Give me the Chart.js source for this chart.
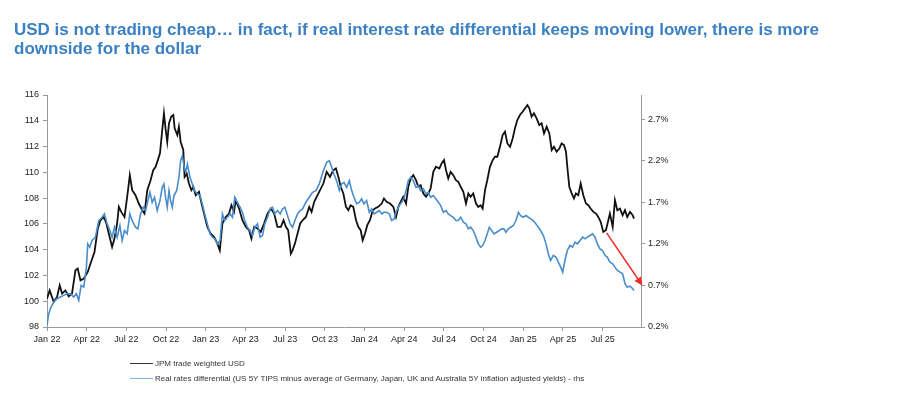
<!DOCTYPE html>
<html>
<head>
<meta charset="utf-8">
<script src="https://cdn.jsdelivr.net/npm/chart.js@4.4.1/dist/chart.umd.min.js"></script>
<style>
  html, body { margin: 0; padding: 0; background: #fff; }
  #wrap { position: relative; width: 903px; height: 395px; overflow: hidden; }
  #title {
    position: absolute; left: 14px; top: 20px; width: 880px;
    font-family: "Liberation Sans", Arial, sans-serif;
    font-weight: bold; font-size: 17px; line-height: 19px; color: #3b80c2;
  }
  #chart { position: absolute; left: 0; top: 0; }
  .legend {
    position: absolute; left: 130px;
    font-family: "Liberation Sans", Arial, sans-serif;
    font-size: 8px; color: #333; white-space: nowrap;
  }
  .legend .swatch { display: inline-block; width: 23px; height: 0; vertical-align: middle; margin-right: 2px; }
</style>
</head>
<body>
<div id="wrap">
  <canvas id="chart" width="903" height="395"></canvas>
  <div id="title">USD is not trading cheap… in fact, if real interest rate differential keeps moving lower, there is more<br>downside for the dollar</div>
  <div class="legend" style="top:359px;"><span class="swatch" style="border-top:1.5px solid #333;"></span>JPM trade weighted USD</div>
  <div class="legend" style="top:374px;"><span class="swatch" style="border-top:1.5px solid #7fb3e0;"></span>Real rates differential (US 5Y TIPS minus average of Germany, Japan, UK and Australia 5Y inflation adjusted yields) - rhs</div>
</div>
<script>
// x = months since Jan 2022
const tickMonths = [0, 3, 6, 9, 12, 15, 18, 21, 24, 27, 30, 33, 36, 39, 42];
const tickLabels = ['Jan 22', 'Apr 22', 'Jul 22', 'Oct 22', 'Jan 23', 'Apr 23', 'Jul 23', 'Oct 23',
  'Jan 24', 'Apr 24', 'Jul 24', 'Oct 24', 'Jan 25', 'Apr 25', 'Jul 25'];
const rightTicks = [0.2, 0.7, 1.2, 1.7, 2.2, 2.7];

// JPM trade weighted USD (lhs)
const usdMonths = [
  0.00, 0.20, 0.51, 0.76, 0.96, 1.14, 1.39, 1.64, 1.89, 2.15, 2.32, 2.53, 2.78, 3.08, 3.33, 3.59, 3.84, 4.04, 4.29, 4.49,
  4.67, 4.92, 5.10, 5.30, 5.43, 5.61, 5.86, 6.06, 6.26, 6.44, 6.69, 6.94, 7.20, 7.37, 7.58, 7.83, 8.03, 8.21, 8.38, 8.54,
  8.71, 8.84, 8.96, 9.09, 9.22, 9.39, 9.55, 9.65, 9.85, 9.97, 10.10, 10.30, 10.40, 10.56, 10.73, 10.91, 11.06, 11.24, 11.49, 11.62,
  11.87, 12.12, 12.37, 12.63, 12.88, 13.06, 13.26, 13.51, 13.76, 13.94, 14.14, 14.27, 14.52, 14.77, 15.03, 15.28, 15.45, 15.66, 15.91, 16.16,
  16.41, 16.67, 16.92, 17.17, 17.42, 17.68, 17.88, 18.06, 18.23, 18.43, 18.56, 18.74, 18.94, 19.14, 19.32, 19.57, 19.82, 20.00, 20.20, 20.45,
  20.89, 21.14, 21.39, 21.64, 21.84, 22.02, 22.20, 22.40, 22.60, 22.78, 22.95, 23.15, 23.36, 23.53, 23.71, 23.86, 24.04, 24.21, 24.41, 24.62,
  24.79, 25.04, 25.30, 25.47, 25.67, 25.93, 26.18, 26.38, 26.56, 26.73, 26.93, 27.14, 27.31, 27.49, 27.69, 27.89, 28.07, 28.24, 28.45, 28.65,
  28.82, 29.00, 29.20, 29.40, 29.66, 29.83, 30.01, 30.16, 30.33, 30.51, 30.71, 30.91, 31.09, 31.27, 31.47, 31.67, 31.85, 32.02, 32.22, 32.43,
  32.60, 32.78, 32.93, 33.11, 33.28, 33.48, 33.69, 33.86, 34.04, 34.24, 34.44, 34.62, 34.80, 35.00, 35.20, 35.37, 35.55, 35.75, 35.95, 36.13,
  36.31, 36.46, 36.63, 36.81, 37.01, 37.21, 37.39, 37.57, 37.77, 37.97, 38.15, 38.32, 38.52, 38.73, 38.90, 39.08, 39.23, 39.33, 39.48, 39.66,
  39.83, 39.98, 40.16, 40.34, 40.54, 40.74, 40.92, 41.09, 41.30, 41.50, 41.67, 41.85, 42.05, 42.25, 42.43, 42.55, 42.76, 42.93, 43.11, 43.31,
  43.51, 43.69, 43.86, 44.07, 44.27, 44.37
];
const usdValues = [
  100.20, 100.84, 99.94, 100.33, 101.23, 100.59, 100.84, 100.38, 100.59, 102.40, 102.53, 101.62, 101.75, 102.27, 103.05, 103.82, 105.64, 106.28, 106.54, 106.03,
  105.25, 104.21, 104.86, 106.03, 107.32, 106.93, 106.54, 108.10, 109.78, 108.62, 108.23, 107.58, 107.06, 106.80, 108.62, 109.39, 110.17, 110.43, 110.95, 111.47,
  113.28, 114.58, 113.41, 112.37, 113.80, 114.32, 114.45, 113.41, 112.89, 113.54, 112.37, 111.73, 109.65, 109.91, 109.13, 108.62, 108.88, 108.23, 108.49, 107.84,
  106.80, 105.77, 105.25, 104.99, 104.47, 103.95, 106.03, 106.54, 106.80, 107.45, 106.93, 107.84, 107.19, 106.28, 105.77, 105.51, 104.86, 105.77, 105.64, 105.38,
  106.03, 106.80, 107.19, 106.80, 105.77, 105.77, 106.28, 105.77, 105.51, 103.69, 103.95, 104.47, 105.25, 106.03, 106.28, 106.54, 107.32, 106.93, 107.71, 108.23,
  109.13, 110.04, 109.65, 110.17, 110.30, 109.65, 108.88, 108.36, 107.32, 107.06, 107.45, 107.32, 106.28, 105.77, 105.51, 104.73, 105.25, 105.90, 106.28, 107.06,
  107.19, 107.32, 107.58, 107.97, 107.71, 107.58, 107.32, 106.54, 107.32, 107.71, 108.10, 107.58, 108.88, 109.52, 109.78, 109.39, 108.88, 109.01, 108.36, 108.10,
  108.36, 108.75, 110.04, 110.43, 110.30, 110.69, 110.95, 110.17, 109.52, 110.04, 109.78, 109.39, 109.26, 108.88, 108.49, 107.58, 108.36, 108.10, 108.36, 107.58,
  107.32, 107.45, 107.19, 108.62, 109.39, 110.43, 110.95, 111.21, 111.21, 111.98, 112.89, 113.15, 112.24, 111.98, 112.63, 113.41, 114.06, 114.45, 114.70, 114.96,
  115.22, 114.96, 114.32, 114.58, 114.19, 113.67, 113.80, 113.02, 113.54, 113.02, 111.73, 111.98, 111.60, 111.85, 112.24, 112.11, 111.60, 110.43, 108.88, 108.36,
  107.97, 108.36, 108.23, 109.13, 108.23, 107.58, 107.45, 107.19, 106.93, 106.80, 106.54, 106.16, 105.38, 105.51, 106.28, 106.80, 105.77, 107.84, 107.06, 107.19,
  106.67, 107.06, 106.54, 106.93, 106.67, 106.41
];

// Real rates differential, % (rhs)
const rrdMonths = [
  0.00, 0.13, 0.30, 0.51, 0.76, 1.01, 1.26, 1.52, 1.77, 2.02, 2.22, 2.40, 2.58, 2.78, 2.98, 3.08, 3.23, 3.41, 3.66, 3.91,
  4.17, 4.34, 4.55, 4.75, 4.92, 5.10, 5.30, 5.51, 5.68, 5.86, 6.06, 6.26, 6.44, 6.69, 6.87, 7.07, 7.27, 7.45, 7.63, 7.78,
  7.95, 8.13, 8.33, 8.54, 8.71, 8.84, 8.96, 9.09, 9.22, 9.34, 9.47, 9.60, 9.80, 9.97, 10.10, 10.23, 10.35, 10.48, 10.61, 10.81,
  10.98, 11.16, 11.36, 11.57, 11.74, 11.92, 12.12, 12.32, 12.50, 12.68, 12.88, 13.08, 13.26, 13.43, 13.64, 13.84, 14.02, 14.19, 14.39, 14.60,
  14.77, 14.95, 15.15, 15.35, 15.53, 15.71, 15.91, 16.11, 16.29, 16.46, 16.67, 16.87, 17.05, 17.22, 17.42, 17.63, 17.80, 17.98, 18.18, 18.38,
  18.56, 18.74, 18.94, 19.14, 19.32, 19.57, 19.82, 20.08, 20.33, 20.58,
  20.89, 21.14, 21.34, 21.52, 21.69, 21.89, 22.10, 22.27, 22.45, 22.65, 22.85, 23.03, 23.20, 23.41, 23.61, 23.78, 23.96, 24.16, 24.36, 24.54,
  24.72, 24.92, 25.12, 25.30, 25.47, 25.67, 25.88, 26.05, 26.23, 26.43, 26.63, 26.81, 26.98, 27.14, 27.31, 27.49, 27.69, 27.89, 28.07, 28.24,
  28.45, 28.65, 28.82, 29.00, 29.20, 29.40, 29.58, 29.76, 29.96, 30.16, 30.33, 30.51, 30.71, 30.91, 31.09, 31.27, 31.47, 31.67, 31.85, 32.02,
  32.22, 32.43, 32.60, 32.78, 32.93, 33.11, 33.28, 33.43, 33.61, 33.79, 33.99, 34.19, 34.37, 34.54, 34.69, 34.87, 35.05, 35.25, 35.45, 35.63,
  35.80, 36.00, 36.21, 36.38, 36.56, 36.76, 36.96, 37.14, 37.31, 37.52, 37.72, 37.89, 38.07, 38.27, 38.47, 38.65, 38.83, 38.98, 39.15, 39.33,
  39.53, 39.73, 39.91, 40.09, 40.29, 40.49, 40.67, 40.84, 41.04, 41.24, 41.42, 41.60, 41.80, 42.00, 42.18, 42.35, 42.55, 42.76, 42.93, 43.11,
  43.31, 43.51, 43.69, 43.86, 44.07, 44.27, 44.37
];
const rrdValues = [
  0.22, 0.36, 0.44, 0.50, 0.54, 0.56, 0.58, 0.60, 0.60, 0.56, 0.60, 0.52, 0.70, 0.68, 0.92, 1.20, 1.16, 1.24, 1.28, 1.48,
  1.52, 1.56, 1.44, 1.36, 1.28, 1.40, 1.28, 1.42, 1.24, 1.36, 1.32, 1.56, 1.48, 1.40, 1.38, 1.56, 1.64, 1.60, 1.72, 1.82,
  1.70, 1.76, 1.60, 1.72, 1.88, 1.92, 1.76, 1.64, 1.84, 1.72, 1.64, 1.78, 1.84, 2.00, 2.20, 2.26, 2.14, 2.06, 2.16, 2.00,
  1.92, 1.84, 1.80, 1.78, 1.68, 1.56, 1.44, 1.32, 1.28, 1.26, 1.20, 1.24, 1.56, 1.48, 1.52, 1.56, 1.52, 1.76, 1.70, 1.64,
  1.58, 1.48, 1.40, 1.36, 1.30, 1.40, 1.44, 1.28, 1.30, 1.44, 1.52, 1.62, 1.64, 1.56, 1.60, 1.56, 1.62, 1.64, 1.54, 1.44,
  1.40, 1.48, 1.56, 1.60, 1.62, 1.70, 1.76, 1.82, 1.84, 1.92,
  2.08, 2.18, 2.20, 2.12, 2.04, 1.96, 1.84, 1.92, 1.94, 1.88, 1.96, 1.84, 1.76, 1.68, 1.70, 1.74, 1.68, 1.72, 1.58, 1.62,
  1.56, 1.58, 1.60, 1.56, 1.58, 1.58, 1.56, 1.48, 1.50, 1.60, 1.66, 1.70, 1.74, 1.84, 1.96, 2.00, 1.96, 1.88, 1.90, 1.84,
  1.86, 1.80, 1.82, 1.76, 1.78, 1.74, 1.70, 1.66, 1.58, 1.60, 1.56, 1.54, 1.52, 1.48, 1.48, 1.52, 1.46, 1.44, 1.38, 1.40,
  1.36, 1.28, 1.20, 1.16, 1.18, 1.24, 1.32, 1.40, 1.36, 1.32, 1.34, 1.36, 1.38, 1.38, 1.34, 1.38, 1.40, 1.42, 1.48, 1.58,
  1.54, 1.52, 1.54, 1.52, 1.50, 1.48, 1.44, 1.40, 1.36, 1.30, 1.20, 1.08, 1.00, 1.06, 1.04, 0.98, 0.92, 0.86, 1.00, 1.12,
  1.18, 1.16, 1.22, 1.20, 1.24, 1.28, 1.26, 1.28, 1.30, 1.32, 1.28, 1.20, 1.14, 1.12, 1.06, 1.04, 0.98, 0.96, 0.92, 0.88,
  0.86, 0.84, 0.72, 0.68, 0.69, 0.66, 0.64
];

// red arrow: from the Jul 25 USD low (lhs) down to the rhs axis
const arrowFrom = { x: 42.3, y: 105.3 };
const arrowTo = { x: 45.0, y: 0.7 };

const tickFont = { family: '"Liberation Sans", Arial, sans-serif', size: 9 };
const axisGrey = '#9a9a9a';

const arrowPlugin = {
  id: 'arrow',
  afterDatasetsDraw(chart) {
    const { ctx, scales } = chart;
    const x1 = scales.x.getPixelForValue(arrowFrom.x), y1 = scales.yL.getPixelForValue(arrowFrom.y);
    const x2 = scales.x.getPixelForValue(arrowTo.x), y2 = scales.yR.getPixelForValue(arrowTo.y);
    const ang = Math.atan2(y2 - y1, x2 - x1);
    const head = 9;
    ctx.save();
    ctx.strokeStyle = '#f02a2a';
    ctx.fillStyle = '#f02a2a';
    ctx.lineWidth = 1.5;
    ctx.beginPath();
    ctx.moveTo(x1, y1);
    ctx.lineTo(x2 - Math.cos(ang) * head * 0.8, y2 - Math.sin(ang) * head * 0.8);
    ctx.stroke();
    ctx.beginPath();
    ctx.moveTo(x2, y2);
    ctx.lineTo(x2 - head * Math.cos(ang - 0.45), y2 - head * Math.sin(ang - 0.45));
    ctx.lineTo(x2 - head * Math.cos(ang + 0.45), y2 - head * Math.sin(ang + 0.45));
    ctx.closePath();
    ctx.fill();
    ctx.restore();
  }
};

new Chart(document.getElementById('chart'), {
  type: 'line',
  data: {
    datasets: [
      {
        label: 'Real rates differential (US 5Y TIPS minus average of Germany, Japan, UK and Australia 5Y inflation adjusted yields) - rhs',
        data: rrdMonths.map((m, i) => ({ x: m, y: rrdValues[i] })),
        yAxisID: 'yR',
        borderColor: '#4a8dcc',
        borderWidth: 1.6,
        pointRadius: 0,
        tension: 0,
      },
      {
        label: 'JPM trade weighted USD',
        data: usdMonths.map((m, i) => ({ x: m, y: usdValues[i] })),
        yAxisID: 'yL',
        borderColor: '#111',
        borderWidth: 1.8,
        pointRadius: 0,
        tension: 0,
      },
    ],
  },
  options: {
    responsive: false,
    animation: false,
    events: [],
    layout: { padding: { top: 95, left: 0, right: 0, bottom: 0 } },
    plugins: { legend: { display: false }, tooltip: { enabled: false } },
    scales: {
      x: {
        type: 'linear', position: 'bottom', min: 0, max: 44.9,
        afterBuildTicks: (s) => { s.ticks = tickMonths.map(v => ({ value: v })); },
        afterFit: (s) => { s.height = 68; },
        ticks: {
          autoSkip: false, maxRotation: 0, padding: 3, color: '#222', font: tickFont,
          callback: (v) => tickLabels[tickMonths.indexOf(v)],
        },
        grid: { drawOnChartArea: false, tickLength: 4, color: axisGrey },
        border: { color: axisGrey },
      },
      yL: {
        position: 'left', min: 98, max: 116,
        afterFit: (s) => { s.width = 47; },
        ticks: { stepSize: 2, padding: 4, color: '#222', font: tickFont },
        grid: { drawOnChartArea: false, tickLength: 4, color: axisGrey },
        border: { color: axisGrey },
      },
      yR: {
        position: 'right', min: 0.2, max: 2.99,
        afterBuildTicks: (s) => { s.ticks = rightTicks.map(v => ({ value: v })); },
        afterFit: (s) => { s.width = 262; },
        ticks: { padding: 3, color: '#222', font: tickFont, callback: (v) => v.toFixed(1) + '%' },
        grid: { drawOnChartArea: false, tickLength: 4, color: axisGrey },
        border: { color: axisGrey },
      },
    },
  },
  plugins: [arrowPlugin],
});
</script>
</body>
</html>
